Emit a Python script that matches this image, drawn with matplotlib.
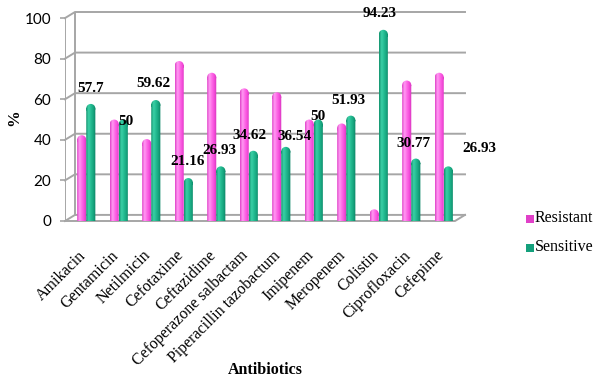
import numpy as np
import matplotlib.pyplot as plt
import matplotlib.transforms as mtransforms
from matplotlib.patches import Rectangle, Ellipse, PathPatch
from matplotlib.path import Path
from matplotlib.colors import LinearSegmentedColormap

# antibiotic susceptibility (%)
antibiotics = ['Amikacin', 'Gentamicin', 'Netilmicin', 'Cefotaxime', 'Ceftazidime',
               'Cefoperazone salbactam', 'Piperacillin tazobactum', 'Imipenem',
               'Meropenem', 'Colistin', 'Ciprofloxacin', 'Cefepime']
resistant = [42.3, 50, 40.38, 78.84, 73.07, 65.38, 63.46, 50, 48.07, 5.77, 69.23, 73.07]
sensitive = [57.7, 50, 59.62, 21.16, 26.93, 34.62, 36.54, 50, 51.93, 94.23, 30.77, 26.93]
sens_labels = ['57.7', '50', '59.62', '21.16', '26.93', '34.62', '36.54', '50',
               '51.93', '94.23', '30.77', '26.93']

# label offsets in pixels (dx, dy) from the top of each green bar
lab_off = [(0, 12), (3, -5), (-2, 13), (-1, 13), (-1, 12), (-4, 12), (9, 7),
           (0, 0), (-2, 12), (-4, 13), (-2, 12), (31, 14)]

pink_cm = LinearSegmentedColormap.from_list('p', ['#e040c8', '#ff9cf2', '#ff6ae8', '#f24ad8', '#d232b8'])
green_cm = LinearSegmentedColormap.from_list('g', ['#10906c', '#3cd0a6', '#24bc92', '#16a47e', '#0c8062'])
GRID = '#a6a6a6'

fig = plt.figure(figsize=(5.93, 3.81), dpi=100)
# axes spans 65..465 px horizontally, 12..221 px vertically
ax = fig.add_axes([65 / 593, 1 - 221 / 381, 400 / 593, 209 / 381])

n = len(antibiotics)
x = np.arange(n)
dep_x, dep_y = 0.307, 3.0          # depth of the back wall in data units
ax.set_xlim(-0.5, n - 0.5 + dep_x)
ax.set_ylim(0, 103)

w = 0.28
cap = 4.4
grad = np.linspace(0, 1, 64).reshape(1, -1)


def cyl(xc, h, cmap):
    body = Path([(xc - w / 2, 0), (xc + w / 2, 0), (xc + w / 2, h - cap / 2),
                 (xc - w / 2, h - cap / 2), (xc - w / 2, 0)], closed=True)
    e = Ellipse((xc, h - cap / 2), w, cap)
    top = e.get_path().transformed(e.get_patch_transform())
    shape = PathPatch(Path.make_compound_path(body, top), facecolor='none',
                      edgecolor='none')
    ax.add_patch(shape)
    im = ax.imshow(grad, cmap=cmap, extent=(xc - w / 2, xc + w / 2, 0, h),
                   aspect='auto', zorder=3, interpolation='bilinear')
    im.set_clip_path(shape)


# back wall, left wall and floor
for v in range(0, 101, 20):
    ax.plot([-0.5, -0.5 + dep_x, n - 0.5 + dep_x], [v, v + dep_y, v + dep_y],
            color=GRID, lw=1.4, zorder=1, clip_on=False)
ax.plot([-0.5, -0.5], [0, 100], color=GRID, lw=1.4, zorder=1)
ax.plot([-0.5 + dep_x] * 2, [dep_y, 100 + dep_y], color=GRID, lw=1.4, zorder=1)
ax.plot([-0.5, n - 0.5, n - 0.5 + dep_x], [0, 0, dep_y], color=GRID, lw=1.4,
        zorder=1, clip_on=False)

for i in x:
    cyl(i + dep_x / 2 - w / 2, resistant[i], pink_cm)
    cyl(i + dep_x / 2 + w / 2, sensitive[i], green_cm)

for i in x:
    dx, dy = lab_off[i]
    ax.annotate(sens_labels[i], (i + dep_x / 2 + w / 2, sensitive[i]),
                xytext=(dx * 0.72, dy * 0.72), textcoords='offset points',
                ha='center', va='baseline', family='Liberation Serif',
                fontweight='bold', fontsize=11, zorder=5)

for s in ax.spines.values():
    s.set_visible(False)
ax.set_yticks(range(0, 101, 20))
ax.tick_params(axis='y', color=GRID, length=3.5, width=1.2, labelsize=11, pad=6.5)
ax.tick_params(axis='x', length=0, pad=19)
for t in ax.get_yticklabels():
    t.set_family('Lato')

ax.set_xticks(x + dep_x / 2)
ax.set_xticklabels(antibiotics, rotation=45, ha='right', va='top',
                   rotation_mode='anchor', family='Liberation Serif', fontsize=11.5)
shift = mtransforms.ScaledTranslation(-6 / 72, 0, fig.dpi_scale_trans)
for t in ax.get_xticklabels():
    t.set_transform(t.get_transform() + shift)

fig.text(14.5 / 593, 1 - 118 / 381, '%', rotation=90, ha='center', va='center',
         family='Liberation Serif', fontweight='bold', fontsize=12)
fig.text(265 / 593, 1 - 370 / 381, 'Antibiotics', ha='center', va='center',
         family='Liberation Serif', fontweight='bold', fontsize=11.5)

# legend
for yy, col, name in [(218, '#e040c8', 'Resistant'), (247, '#14a07c', 'Sensitive')]:
    fy = 1 - yy / 381
    fig.patches.append(Rectangle((526 / 593, fy - 0.013), 0.013, 0.022,
                                 transform=fig.transFigure, facecolor=col,
                                 edgecolor='none', figure=fig))
    fig.text(535 / 593, fy, name, va='center', family='Liberation Serif', fontsize=11.5)

fig.savefig('out.png', dpi=100)
